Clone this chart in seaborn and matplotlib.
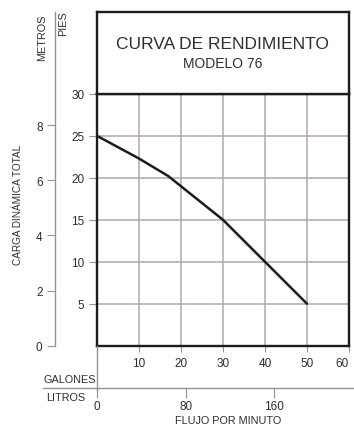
import matplotlib
matplotlib.use("Agg")
import matplotlib.pyplot as plt
from matplotlib.lines import Line2D
import numpy as np
import pandas as pd
import seaborn as sns

# Performance curve data: flow in gallons per minute vs total dynamic head in feet
flow_gpm = [0, 10, 17, 20, 30, 40, 50]
head_ft = [25, 22.3, 20.2, 19, 15, 10, 5]

gallon_ticks = [10, 20, 30, 40, 50, 60]
feet_ticks = [5, 10, 15, 20, 25, 30]
meter_ticks = [0, 2, 4, 6, 8]
liter_ticks = [0, 80, 160]

FT_PER_M = 3.28084
L_PER_GAL = 3.78541

sns.set_theme(style="white")
plt.rcParams["font.family"] = ["Liberation Sans", "DejaVu Sans"]

TXT = "#2e2e2e"
AXC = "#9a9090"
GRID = "#b4a7a7"
INK = "#1c1c1c"

W, H = 354, 427
fig = plt.figure(figsize=(W / 100, H / 100), dpi=100)


def rect(x0, y0, x1, y1):
    # pixel box (top-left origin) -> figure fraction rect
    return [x0 / W, 1 - y1 / H, (x1 - x0) / W, (y1 - y0) / H]


X0, X1 = 96.7, 349.0
Y_TOP, Y_30, Y_0 = 12.7, 94.7, 346.7
px_per_ft = (Y_0 - Y_30) / 30.0

# Main chart
ax = fig.add_axes(rect(X0, Y_30, X1, Y_0))
df = pd.DataFrame({"gpm": flow_gpm, "ft": head_ft})
sns.lineplot(data=df, x="gpm", y="ft", ax=ax, color=INK, lw=1.8, sort=True)
ax.set_xlim(0, 60)
ax.set_ylim(0, 30)
ax.set_xticks(gallon_ticks)
ax.set_yticks(feet_ticks)
ax.set_xlabel("")
ax.set_ylabel("")
ax.grid(True, color=GRID, lw=1.1)
for s in ax.spines.values():
    s.set_color(INK)
    s.set_linewidth(1.7)
ax.tick_params(axis="x", direction="out", length=4, width=0.8, color=AXC,
               pad=4, labelsize=8.5, labelcolor=TXT, bottom=True)
ax.tick_params(axis="y", direction="out", length=6, width=0.8, color=AXC,
               pad=3, labelsize=8.5, labelcolor=TXT, left=True)
# keep the last flow label inside the canvas
ax.get_xticklabels()[-1].set_horizontalalignment("right")
ax.get_xticklabels()[-1].set_x(60)

# Title box above the chart
tax = fig.add_axes(rect(X0, Y_TOP, X1, Y_30))
tax.set_xticks([])
tax.set_yticks([])
for s in tax.spines.values():
    s.set_color(INK)
    s.set_linewidth(1.7)
tax.text(0.5, 0.61, "CURVA DE RENDIMIENTO", ha="center", va="center",
         fontsize=12.5, color=TXT, transform=tax.transAxes)
tax.text(0.5, 0.38, "MODELO 76", ha="center", va="center",
         fontsize=10, color=TXT, transform=tax.transAxes)

# Meters scale
MX = 55
max_ = fig.add_axes(rect(MX, Y_TOP, MX + 0.3, Y_0))
mtop = (Y_0 - Y_TOP) / px_per_ft / FT_PER_M
max_.set_ylim(0, mtop)
max_.set_xticks([])
max_.set_yticks(meter_ticks)
max_.patch.set_alpha(0)
for k, s in max_.spines.items():
    s.set_visible(k == "left")
max_.spines["left"].set_color(AXC)
max_.spines["left"].set_linewidth(1.0)
max_.tick_params(axis="y", direction="out", length=6, width=0.8, color=AXC,
                 pad=3, labelsize=8.5, labelcolor=TXT, left=True)

# Liters scale
LY = 389
lax = fig.add_axes(rect(X0, LY, X1, LY + 0.3))
lax.set_xlim(0, 60 * L_PER_GAL)
lax.set_xticks(liter_ticks)
lax.set_yticks([])
lax.patch.set_alpha(0)
for s in lax.spines.values():
    s.set_visible(False)
lax.tick_params(axis="x", direction="out", length=7.5, width=0.8, color=AXC,
                pad=1.2, labelsize=8.5, labelcolor=TXT, bottom=True)

# Connecting rules
fig.add_artist(Line2D([43 / W, 1.0], [1 - LY / H, 1 - LY / H],
                      transform=fig.transFigure, color=AXC, lw=1.0))
fig.add_artist(Line2D([X0 / W, X0 / W], [1 - Y_0 / H, 1 - 392 / H],
                      transform=fig.transFigure, color=AXC, lw=1.0))

# Labels
fig.text(44 / W, 1 - 380 / H, "GALONES", ha="left", va="center",
         fontsize=7.8, color=TXT)
fig.text(46 / W, 1 - 398 / H, "LITROS", ha="left", va="center",
         fontsize=7.8, color=TXT)
fig.text(228 / W, 1 - 421.5 / H, "FLUJO POR MINUTO", ha="center", va="center",
         fontsize=7.8, color=TXT)
fig.text(42 / W, 1 - 38 / H, "METROS", ha="center", va="center",
         rotation=90, fontsize=7.8, color=TXT)
fig.text(63 / W, 1 - 24 / H, "PIES", ha="center", va="center",
         rotation=90, fontsize=7.8, color=TXT)
fig.text(18 / W, 1 - 205 / H, "CARGA DINÁMICA TOTAL", ha="center", va="center",
         rotation=90, fontsize=7.2, color=TXT)

fig.savefig("out.png", dpi=100)
